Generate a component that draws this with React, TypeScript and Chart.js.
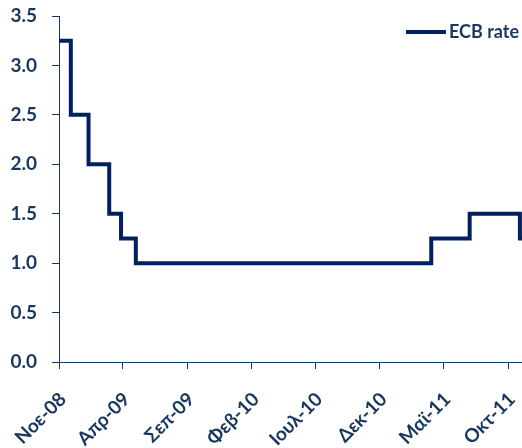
import React, { useEffect, useRef } from 'react';
import { Chart, registerables } from 'chart.js';

Chart.register(...registerables);

// ECB main refinancing rate: change dates and levels
const changeDates = [
  '2008-11-12', '2008-12-10', '2009-01-21', '2009-03-11', '2009-04-08',
  '2009-05-13', '2011-04-13', '2011-07-13', '2011-11-09', '2011-11-14',
];
const ecbRate = [3.25, 2.5, 2.0, 1.5, 1.25, 1.0, 1.25, 1.5, 1.25, 1.25];

const tickDates = [
  '2008-11-12', '2009-04-12', '2009-09-12', '2010-02-12',
  '2010-07-12', '2010-12-12', '2011-05-12', '2011-10-12',
];
const tickLabels = ['Νοε-08', 'Απρ-09', 'Σεπ-09', 'Φεβ-10', 'Ιουλ-10', 'Δεκ-10', 'Μαϊ-11', 'Οκτ-11'];
const yTicks = [0, 0.5, 1.0, 1.5, 2.0, 2.5, 3.0, 3.5];
const seriesName = 'ECB rate';

const axisStart = '2008-11-12';
const axisEnd = '2011-11-14';

const dayOf = (s: string) => (Date.parse(s) - Date.parse(axisStart)) / 86400000;

const LINE = '#002060';
const TEXT = '#17375E';
const FONT = 'Lato, "Open Sans", sans-serif';

// Legend drawn inside the plot area, top-right
const insideLegend = {
  id: 'insideLegend',
  afterDraw(chart: any) {
    const { ctx, chartArea } = chart;
    ctx.save();
    ctx.font = `bold 18px ${FONT}`;
    const tw = ctx.measureText(seriesName).width;
    const textRight = chartArea.right - 3;
    const textX = textRight - tw;
    const cy = chartArea.top + 16;
    ctx.fillStyle = LINE;
    ctx.fillRect(textX - 3 - 40, cy - 2, 40, 4);
    ctx.fillStyle = TEXT;
    ctx.textBaseline = 'middle';
    ctx.textAlign = 'left';
    ctx.fillText(seriesName, textX, cy);
    ctx.restore();
  },
};

export default function App() {
  const ref = useRef<HTMLCanvasElement | null>(null);

  useEffect(() => {
    if (!ref.current) return;
    const chart = new Chart(ref.current, {
      type: 'line',
      data: {
        datasets: [
          {
            label: seriesName,
            data: changeDates.map((d, i) => ({ x: dayOf(d), y: ecbRate[i] })),
            borderColor: LINE,
            backgroundColor: LINE,
            borderWidth: 4,
            pointRadius: 0,
            stepped: true,
            fill: false,
          },
        ],
      },
      plugins: [insideLegend],
      options: {
        responsive: false,
        animation: false,
        layout: { padding: { top: 16, right: 0, left: 0, bottom: 0 } },
        plugins: {
          tooltip: { enabled: false },
          legend: { display: false },
        },
        scales: {
          x: {
            type: 'linear',
            min: dayOf(axisStart),
            max: dayOf(axisEnd),
            afterBuildTicks: (scale: any) => {
              scale.ticks = tickDates.map((d) => ({ value: dayOf(d) }));
            },
            afterFit: (scale: any) => {
              scale.height = 86;
              scale.paddingLeft = 0;
              scale.paddingRight = 0;
            },
            border: { display: true, color: TEXT, width: 1 },
            grid: { display: true, drawOnChartArea: false, drawTicks: true, tickLength: 7, color: TEXT },
            ticks: {
              autoSkip: false,
              maxRotation: 45,
              minRotation: 45,
              padding: 19,
              labelOffset: 4,
              color: TEXT,
              font: { family: FONT, size: 19, weight: 'bold' },
              callback: (_v: any, i: number) => tickLabels[i],
            },
          },
          y: {
            min: 0,
            max: 3.5,
            afterBuildTicks: (scale: any) => {
              scale.ticks = yTicks.map((v) => ({ value: v }));
            },
            afterFit: (scale: any) => {
              scale.width = 59;
              scale.paddingTop = 0;
              scale.paddingBottom = 0;
            },
            border: { display: true, color: TEXT, width: 1 },
            grid: { display: true, drawOnChartArea: false, drawTicks: true, tickLength: 7, color: TEXT },
            ticks: {
              padding: 15,
              color: TEXT,
              font: { family: FONT, size: 19, weight: 'bold' },
              callback: (v: any) => Number(v).toFixed(1),
            },
          },
        },
      } as any,
    });
    return () => chart.destroy();
  }, []);

  return (
    <div style={{ position: 'fixed', left: 0, top: 0, width: 522, height: 448, background: '#fff' }}>
      <canvas ref={ref} width={522} height={448} style={{ display: 'block' }} />
    </div>
  );
}
